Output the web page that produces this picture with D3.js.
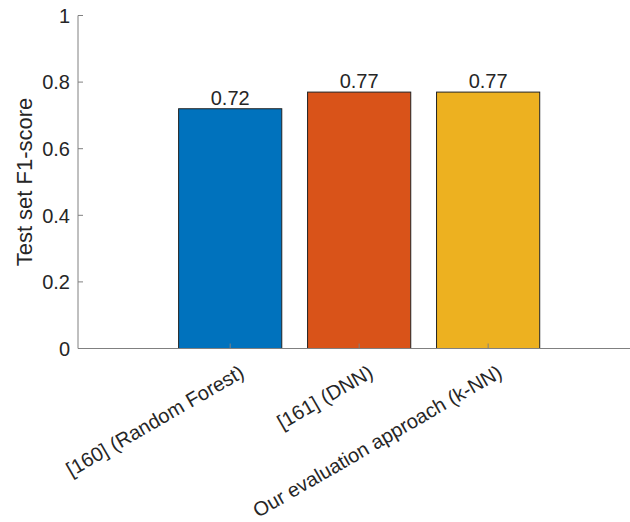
<!DOCTYPE html>
<html><head><meta charset="utf-8">
<script src="https://cdn.jsdelivr.net/npm/d3@7"></script>
<style>body{margin:0;background:#fff}svg{display:block}text{font-family:"Liberation Sans",Arial,sans-serif;fill:#262626}</style>
</head><body>
<svg id="c" width="630" height="522"></svg>
<script>
const categories = ["[160] (Random Forest)", "[161] (DNN)", "Our evaluation approach (k-NN)"];
const values = [0.72, 0.77, 0.77];
const barColors = ["#0072BD", "#D95319", "#EDB120"];
const yTicks = [0, 0.2, 0.4, 0.6, 0.8, 1];
const valueLabels = ["0.72", "0.77", "0.77"];

const svg = d3.select("#c");
const x = d3.scaleLinear().domain([-0.18, 4.1]).range([78, 630]);
const y = d3.scaleLinear().domain([0, 1]).range([348.5, 15.5]);
const barW = 0.8;
const axisColor = "#808080";

// bars
svg.selectAll("rect.bar").data(values).enter().append("rect")
  .attr("x", (d,i) => x(i+1 - barW/2))
  .attr("width", x(barW) - x(0))
  .attr("y", d => y(d))
  .attr("height", d => y(0) - y(d))
  .attr("fill", (d,i) => barColors[i])
  .attr("stroke", "#222").attr("stroke-width", 1);

// value labels
svg.selectAll("text.val").data(values).enter().append("text")
  .attr("x", (d,i) => x(i+1))
  .attr("y", d => y(d) - 4)
  .attr("text-anchor", "middle")
  .attr("font-size", 20)
  .text((d,i) => valueLabels[i]);

// y axis
const ya = svg.append("g");
ya.append("line").attr("x1", 78).attr("x2", 78).attr("y1", y(1)).attr("y2", y(0)).attr("stroke", axisColor);
ya.selectAll("line.t").data(yTicks).enter().append("line")
  .attr("x1", 78).attr("x2", 83).attr("y1", d => y(d)).attr("y2", d => y(d)).attr("stroke", axisColor);
ya.selectAll("text").data(yTicks).enter().append("text")
  .attr("x", 70).attr("y", d => y(d)).attr("dy", "0.36em")
  .attr("text-anchor", "end").attr("font-size", 20)
  .text(d => d3.format("~g")(d));

// x axis
const xa = svg.append("g");
xa.append("line").attr("x1", 78).attr("x2", 630).attr("y1", y(0)).attr("y2", y(0)).attr("stroke", axisColor);
xa.selectAll("line.t").data(categories).enter().append("line")
  .attr("x1", (d,i) => x(i+1)).attr("x2", (d,i) => x(i+1))
  .attr("y1", y(0)).attr("y2", y(0) - 5).attr("stroke", axisColor);
xa.selectAll("text").data(categories).enter().append("text")
  .attr("transform", (d,i) => `translate(${x(i+1)+8},${y(0)+15}) rotate(-30)`)
  .attr("text-anchor", "end").attr("dy", "0.74em").attr("font-size", 20)
  .text(d => d);

// y label
svg.append("text")
  .attr("transform", `translate(32,${y(0.5)}) rotate(-90)`)
  .attr("text-anchor", "middle").attr("font-size", 22)
  .text("Test set F1-score");
</script>
</body></html>
